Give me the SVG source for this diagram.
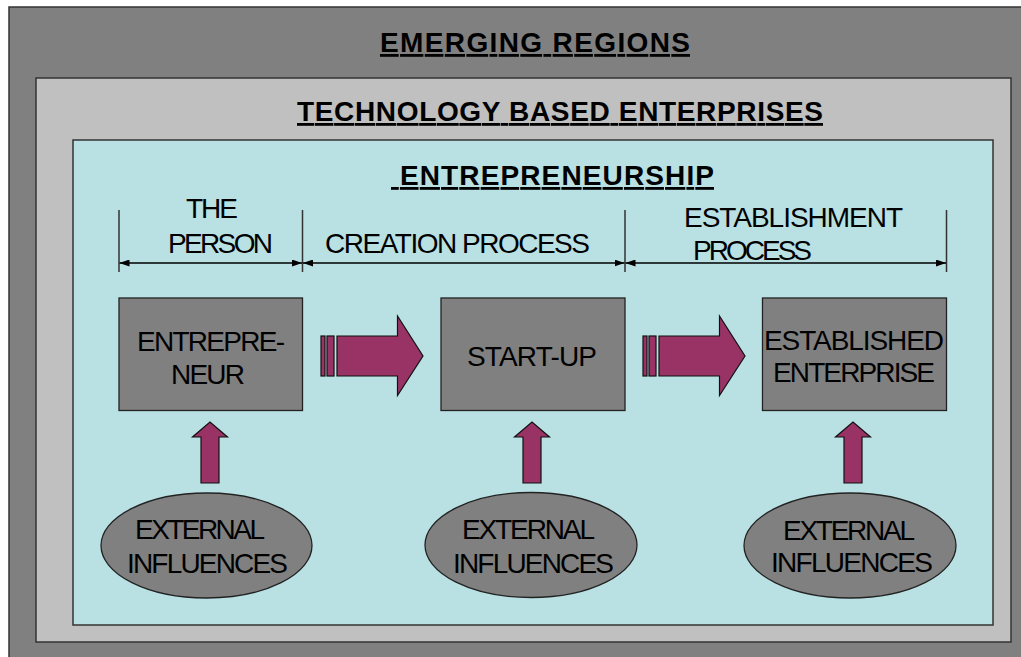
<svg xmlns="http://www.w3.org/2000/svg" width="1021" height="657" viewBox="0 0 1021 657">
<style>
.title{font-family:"Liberation Sans",Arial,sans-serif;font-weight:bold;font-size:28px;fill:#000;text-decoration:underline}
.lbl{font-family:"Liberation Sans",Arial,sans-serif;font-size:28px;fill:#000}
.box{fill:#808080;stroke:#222;stroke-width:1.3}
.ell{fill:#808080;stroke:#222;stroke-width:1.3}
.arr{fill:#993366;stroke:#111;stroke-width:1.2}
.dim{stroke:#000;stroke-width:1.4;fill:none}
.tick{stroke:#333;stroke-width:1.5}
</style>
<defs>
<marker id="ah" viewBox="0 0 10 7" refX="10" refY="3.5" markerWidth="10" markerHeight="7" markerUnits="userSpaceOnUse" orient="auto-start-reverse">
<path d="M0,0 L10,3.5 L0,7 Z" fill="#000"/>
</marker>
</defs>
<rect width="1021" height="657" fill="#ffffff"/>
<g id="emerging-regions">
<rect x="9" y="7" width="1030" height="670" fill="#808080" stroke="#333" stroke-width="1.5"/>
<text class="title" x="380" y="52" textLength="310" lengthAdjust="spacing">EMERGING REGIONS</text>
</g>
<g id="technology-based-enterprises">
<rect x="36" y="78" width="975" height="564" fill="#C0C0C0" stroke="#333" stroke-width="1.5"/>
<text class="title" x="297" y="121" textLength="526" lengthAdjust="spacing">TECHNOLOGY BASED ENTERPRISES</text>
</g>
<g id="entrepreneurship">
<rect x="73" y="140" width="920" height="485" fill="#B9E0E3" stroke="#333" stroke-width="1.5"/>
<text class="title" x="391" y="185" textLength="323" lengthAdjust="spacing" xml:space="preserve"> ENTREPRENEURSHIP</text>
</g>
<g id="phase-labels">
<text class="lbl" x="186" y="218" textLength="52" lengthAdjust="spacing">THE</text>
<text class="lbl" x="168" y="253" textLength="105" lengthAdjust="spacing">PERSON</text>
<text class="lbl" x="325" y="253" textLength="265" lengthAdjust="spacing">CREATION PROCESS</text>
<text class="lbl" x="684" y="227" textLength="219" lengthAdjust="spacing">ESTABLISHMENT</text>
<text class="lbl" x="693" y="260" textLength="119" lengthAdjust="spacing">PROCESS</text>
</g>
<g id="connectors">
<line class="tick" x1="119" y1="210" x2="119" y2="272"/>
<line class="tick" x1="302.5" y1="210" x2="302.5" y2="272"/>
<line class="tick" x1="625" y1="210" x2="625" y2="272"/>
<line class="tick" x1="946.5" y1="210" x2="946.5" y2="272"/>
<line class="dim" x1="119.5" y1="263" x2="302" y2="263" marker-start="url(#ah)" marker-end="url(#ah)"/>
<line class="dim" x1="303" y1="263" x2="624.5" y2="263" marker-start="url(#ah)" marker-end="url(#ah)"/>
<line class="dim" x1="625.5" y1="263" x2="946" y2="263" marker-start="url(#ah)" marker-end="url(#ah)"/>
<g id="arrow-entrepreneur-startup">
<rect class="arr" x="321" y="336" width="4" height="40"/>
<rect class="arr" x="327" y="336" width="7" height="40"/>
<path class="arr" d="M337,336 H397.5 V316 L423,356 L397.5,395.5 V376 H337 Z"/>
</g>
<g id="arrow-startup-established">
<rect class="arr" x="643" y="336" width="4" height="40"/>
<rect class="arr" x="649" y="336" width="7" height="40"/>
<path class="arr" d="M659,336 H719.5 V316 L745,356 L719.5,395.5 V376 H659 Z"/>
</g>
<path class="arr" d="M201,483 V437 H192.5 L210,422 L227.5,437 H219 V483 Z"/>
<path class="arr" d="M523,483 V437 H514.5 L532,422 L549.5,437 H541 V483 Z"/>
<path class="arr" d="M844,483 V437 H835.5 L853,422 L870.5,437 H862 V483 Z"/>
</g>
<g id="entrepreneur">
<rect class="box" x="119" y="298" width="183.5" height="112.5"/>
<text class="lbl" x="137" y="351" textLength="148" lengthAdjust="spacing">ENTREPRE-</text>
<text class="lbl" x="171" y="384" textLength="74" lengthAdjust="spacing">NEUR</text>
</g>
<g id="start-up">
<rect class="box" x="441" y="298" width="184" height="112.5"/>
<text class="lbl" x="467" y="366" textLength="130" lengthAdjust="spacing">START-UP</text>
</g>
<g id="established-enterprise">
<rect class="box" x="762.5" y="298" width="184" height="112.5"/>
<text class="lbl" x="764" y="350" textLength="180" lengthAdjust="spacing">ESTABLISHED</text>
<text class="lbl" x="773" y="382" textLength="162" lengthAdjust="spacing">ENTERPRISE</text>
</g>
<g id="external-influences-1">
<ellipse class="ell" cx="206.5" cy="545.5" rx="105.5" ry="52.5"/>
<text class="lbl" x="135" y="539" textLength="130" lengthAdjust="spacing">EXTERNAL</text>
<text class="lbl" x="127" y="573" textLength="161" lengthAdjust="spacing">INFLUENCES</text>
</g>
<g id="external-influences-2">
<ellipse class="ell" cx="531" cy="545" rx="106" ry="52.5"/>
<text class="lbl" x="462" y="539" textLength="133" lengthAdjust="spacing">EXTERNAL</text>
<text class="lbl" x="453" y="573" textLength="161" lengthAdjust="spacing">INFLUENCES</text>
</g>
<g id="external-influences-3">
<ellipse class="ell" cx="850" cy="545.5" rx="106" ry="52.5"/>
<text class="lbl" x="783" y="540" textLength="132" lengthAdjust="spacing">EXTERNAL</text>
<text class="lbl" x="771" y="572" textLength="162" lengthAdjust="spacing">INFLUENCES</text>
</g>
</svg>
